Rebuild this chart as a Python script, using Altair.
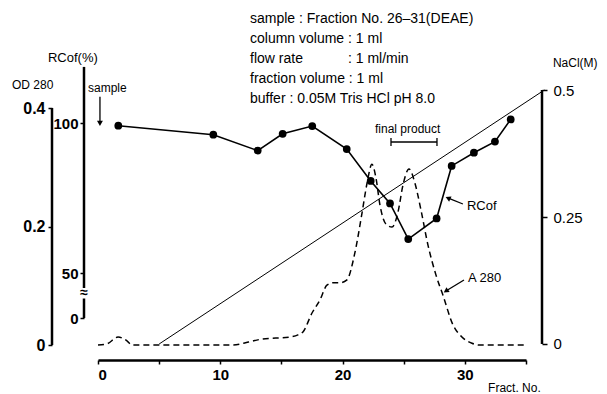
import altair as alt
import pandas as pd

# ---------------- data ----------------
# A280 (OD 280) elution profile, dashed curve
a280_frac = [0, 0.74, 1.64, 2.37, 2.78, 11.0, 12.3, 13.4, 15.7, 16.35, 16.76, 17.5, 18.15,
             18.72, 19.2, 19.8, 20.36, 21.0, 21.6, 22.0, 22.4, 22.73, 23.06, 23.55, 24.04,
             24.53, 24.94, 25.43, 25.92, 26.41, 26.98, 27.64, 28.21, 29.03, 29.76, 30.58,
             31.2, 35.0]
a280_od = [0, 0.002, 0.0135, 0.007, 0, 0, 0.005, 0.010, 0.0135, 0.017, 0.022, 0.054, 0.076,
           0.101, 0.105, 0.105, 0.110, 0.155, 0.224, 0.273, 0.305, 0.282, 0.236, 0.204, 0.199,
           0.224, 0.270, 0.297, 0.273, 0.228, 0.169, 0.118, 0.084, 0.034, 0.0135, 0.003,
           0, 0]

# RCof activity (%)
rcof_frac = [1.66, 9.43, 13.06, 15.1, 17.52, 20.34, 22.3, 23.88, 25.37, 27.69, 28.92, 30.74, 32.46, 33.75]
rcof_pct = [99.1, 96.1, 90.8, 96.4, 99.0, 91.3, 80.7, 73.2, 61.3, 68.2, 85.7, 90.1, 93.8, 101.2]

# NaCl gradient (M)
nacl_frac = [5, 36.5]
nacl_m = [0, 0.5]

# tick values
x_ticks = [0, 5, 10, 15, 20, 25, 30, 35]
od_ticks = [0, 0.2, 0.4]
rcof_ticks = [35, 50, 100]     # 35 is drawn as "0" below the axis break
nacl_ticks = [0, 0.25, 0.5]

# annotations (x in fraction no., y in OD units)
ann_text = ["sample : Fraction No. 26–31(DEAE)", "column volume : 1 ml", "flow rate",
            ": 1 ml/min", "fraction volume : 1 ml", "buffer : 0.05M Tris HCl pH 8.0",
            "OD 280", "RCof(%)", "NaCl(M)", "sample", "final product", "RCof", "A 280",
            "Fract. No."]
ann_x = [12.43, 12.43, 12.43, 20.44, 12.43, 12.43, -7.03, -4.09, 37.2, -0.82, 22.65,
         30.17, 30.25, 31.9]
ann_y = [0.550, 0.516, 0.483, 0.483, 0.449, 0.415, 0.439, 0.484, 0.476, 0.434, 0.3646,
         0.2346, 0.113, -0.0726]
ann_size = [14, 14, 14, 14, 14, 14, 12, 13, 12, 12, 12, 13, 13, 12]

seg_x = [0.16, 29.84, 29.93, 23.96, 23.96, 27.72]
seg_x2 = [0.16, 28.75, 28.55, 27.72, 23.96, 27.72]
seg_y = [0.419, 0.238, 0.1097, 0.3426, 0.3494, 0.3494]
seg_y2 = [0.378, 0.247, 0.0925, 0.3426, 0.3359, 0.3359]

head_x = [0.16, 28.62, 28.45]
head_y = [0.374, 0.248, 0.0911]
head_ang = [180, 294, 237]

# ---------------- layout constants ----------------
W, H = 428, 350
FONT = "Liberation Sans"
OD_DOM = [-0.0253, 0.5654]
NACL_DOM = [-0.0315, 0.6575]
RCOF_DOM = [21.0, 137.67]

x_scale = alt.Scale(domain=[0, 35], nice=False, zero=False)
x_axis = alt.Axis(values=x_ticks, labelExpr="datum.value % 10 == 0 ? datum.label : ''",
                  grid=False, domainWidth=2.5, domainColor="black", tickColor="black",
                  tickWidth=1.5, tickSize=4, labelFontSize=15, labelFontWeight="bold",
                  labelFont=FONT, labelColor="black", labelPadding=3, title=None)


def xenc(field):
    return alt.X(f"{field}:Q", scale=x_scale, axis=x_axis)


def od_scale():
    return alt.Scale(domain=OD_DOM, nice=False, zero=False)


# ---------------- layers ----------------
a280_df = pd.DataFrame({"frac": a280_frac, "od": a280_od})
a280 = alt.Chart(a280_df).mark_line(color="black", strokeWidth=1.5, strokeDash=[6, 4],
                                     interpolate="monotone").encode(
    x=xenc("frac"),
    y=alt.Y("od:Q", scale=od_scale(),
            axis=alt.Axis(orient="left", offset=46, values=od_ticks, domain=False,
                          grid=False, tickSize=4, tickWidth=1.5, tickColor="black",
                          labelFontSize=16, labelFontWeight="bold", labelFont=FONT,
                          labelColor="black", labelPadding=3, title=None,
                          labelExpr="datum.value == 0 ? '0' : format(datum.value, '.1f')")),
)

rcof_df = pd.DataFrame({"frac": rcof_frac, "pct": rcof_pct})
rcof_y = alt.Y("pct:Q", scale=alt.Scale(domain=RCOF_DOM, nice=False, zero=False),
               axis=alt.Axis(orient="left", offset=14, values=rcof_ticks, domain=False,
                             grid=False, tickSize=4, tickWidth=1.5, tickColor="black",
                             labelFontSize=15, labelFontWeight="bold", labelFont=FONT,
                             labelColor="black", labelPadding=2, title=None,
                             labelExpr="datum.value == 35 ? '0' : datum.label"))
rcof_line = alt.Chart(rcof_df).mark_line(color="black", strokeWidth=1.6).encode(
    x=xenc("frac"), y=rcof_y)
rcof_pts = alt.Chart(rcof_df).mark_point(color="black", filled=True, size=60, opacity=1).encode(
    x=xenc("frac"),
    y=alt.Y("pct:Q", scale=alt.Scale(domain=RCOF_DOM, nice=False, zero=False), axis=None))

nacl_df = pd.DataFrame({"frac": nacl_frac, "m": nacl_m})
nacl = alt.Chart(nacl_df).mark_line(color="black", strokeWidth=1).encode(
    x=xenc("frac"),
    y=alt.Y("m:Q", scale=alt.Scale(domain=NACL_DOM, nice=False, zero=False),
            axis=alt.Axis(orient="right", offset=16, values=nacl_ticks, domain=False,
                          grid=False, tickSize=5, tickWidth=1.5, tickColor="black",
                          labelFontSize=15, labelFont=FONT, labelColor="black",
                          labelPadding=6, title=None,
                          labelExpr="datum.value == 0 ? '0' : toString(datum.value)")),
)

# axis lines drawn as rules (span only the labelled range)
od_line = alt.Chart(pd.DataFrame({"a": [0], "b": [0.4]})).mark_rule(
    color="black", strokeWidth=2.5).encode(
    x=alt.value(-46), y=alt.Y("a:Q", scale=od_scale(), axis=None), y2="b:Q")
rcof_ax_df = pd.DataFrame({"a": [35, 45.0], "b": [41.5, 118.7]})
rcof_ax = alt.Chart(rcof_ax_df).mark_rule(color="black", strokeWidth=2.5).encode(
    x=alt.value(-14),
    y=alt.Y("a:Q", scale=alt.Scale(domain=RCOF_DOM, nice=False, zero=False), axis=None),
    y2="b:Q")
rcof_break = alt.Chart(pd.DataFrame({"v": [43.3]})).mark_text(
    text="≈", fontSize=14, fontWeight="bold", font=FONT, color="black").encode(
    x=alt.value(-14),
    y=alt.Y("v:Q", scale=alt.Scale(domain=RCOF_DOM, nice=False, zero=False), axis=None))
nacl_ax = alt.Chart(pd.DataFrame({"a": [0], "b": [0.5]})).mark_rule(
    color="black", strokeWidth=2.5).encode(
    x=alt.value(W + 16),
    y=alt.Y("a:Q", scale=alt.Scale(domain=NACL_DOM, nice=False, zero=False), axis=None),
    y2="b:Q")

# annotations
ann_df = pd.DataFrame({"x": ann_x, "y": ann_y, "t": ann_text, "fs": ann_size})
ann = alt.Chart(ann_df).mark_text(align="left", baseline="middle", font=FONT,
                                  color="black").encode(
    x=xenc("x"), y=alt.Y("y:Q", scale=od_scale(), axis=None),
    text="t:N", size=alt.Size("fs:Q", scale=None, legend=None))

seg_df = pd.DataFrame({"x": seg_x, "x2": seg_x2, "y": seg_y, "y2": seg_y2})
segs = alt.Chart(seg_df).mark_rule(color="black", strokeWidth=1.3).encode(
    x=xenc("x"), x2="x2:Q", y=alt.Y("y:Q", scale=od_scale(), axis=None), y2="y2:Q")

head_df = pd.DataFrame({"x": head_x, "y": head_y, "a": head_ang})
heads = alt.Chart(head_df).mark_point(shape="triangle-up", filled=True, color="black",
                                      size=35, opacity=1).encode(
    x=xenc("x"), y=alt.Y("y:Q", scale=od_scale(), axis=None),
    angle=alt.Angle("a:Q", scale=None))

chart = alt.layer(
    a280, rcof_line, rcof_pts, nacl, od_line, rcof_ax, rcof_break, nacl_ax, ann, segs, heads
).resolve_scale(y="independent").resolve_axis(y="independent").properties(
    width=W, height=H,
    padding={"left": 98, "top": 10, "right": 81, "bottom": 34},
    autosize=alt.AutoSizeParams(type="none"),
    background="white",
).configure_view(stroke=None)

chart.save("out.html", embed_options={"renderer": "svg", "actions": False})
